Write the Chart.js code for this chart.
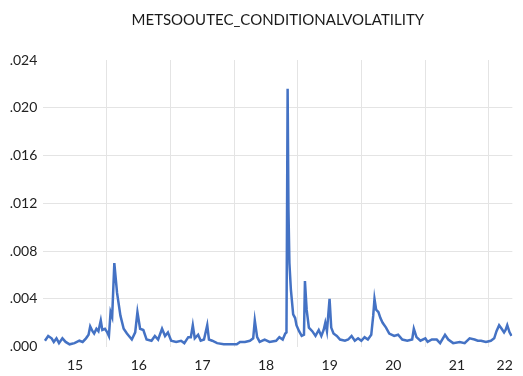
<!DOCTYPE html>
<html lang="en">
<head>
    <meta charset="UTF-8">
    <title>METSOOUTEC_CONDITIONALVOLATILITY</title>
    <script src="https://cdn.jsdelivr.net/npm/chart.js"></script>
    <style>
        body { margin: 0; background: #fff; }
        .container { width: 523px; height: 376px; position: relative; }
    </style>
</head>
<body>
    <div class="container">
        <canvas id="volChart"></canvas>
    </div>

    <script>
        // decimal years
        const dates = [
            2015.026, 2015.077, 2015.130, 2015.165, 2015.207, 2015.247, 2015.300, 2015.351, 2015.413, 2015.490,
            2015.567, 2015.618, 2015.671, 2015.711, 2015.737, 2015.773, 2015.799, 2015.835, 2015.866, 2015.903,
            2015.927, 2015.969, 2016.005, 2016.031, 2016.057, 2016.082, 2016.116, 2016.159, 2016.212, 2016.263,
            2016.314, 2016.391, 2016.444, 2016.479, 2016.521, 2016.572, 2016.623, 2016.700, 2016.753, 2016.804,
            2016.866, 2016.913, 2016.958, 2017.009, 2017.087, 2017.164, 2017.216, 2017.278, 2017.318, 2017.349,
            2017.380, 2017.433, 2017.473, 2017.525, 2017.576, 2017.603, 2017.654, 2017.731, 2017.835, 2017.937,
            2018.040, 2018.091, 2018.168, 2018.246, 2018.298, 2018.323, 2018.360, 2018.400, 2018.478, 2018.555,
            2018.658, 2018.709, 2018.762, 2018.802, 2018.821, 2018.839, 2018.852, 2018.867, 2018.890, 2018.926,
            2018.957, 2018.978, 2019.019, 2019.060, 2019.096, 2019.111, 2019.138, 2019.173, 2019.226, 2019.277,
            2019.328, 2019.369, 2019.405, 2019.431, 2019.457, 2019.498, 2019.524, 2019.560, 2019.612, 2019.663,
            2019.740, 2019.791, 2019.844, 2019.895, 2019.946, 2019.997, 2020.048, 2020.100, 2020.153, 2020.184,
            2020.204, 2020.230, 2020.266, 2020.297, 2020.332, 2020.385, 2020.436, 2020.513, 2020.575, 2020.641,
            2020.719, 2020.796, 2020.822, 2020.864, 2020.926, 2021.003, 2021.039, 2021.105, 2021.182, 2021.235,
            2021.312, 2021.363, 2021.440, 2021.544, 2021.621, 2021.699, 2021.776, 2021.827, 2021.878, 2021.955,
            2022.032, 2022.085, 2022.121, 2022.162, 2022.202, 2022.240, 2022.264, 2022.290, 2022.326, 2022.357
        ];
        const volatility = [
            .0005, .0009, .0007, .0004, .0007, .0003, .0007, .0004, .0002, .0003,
            .0005, .0004, .0007, .0010, .0017, .0013, .0011, .0015, .0013, .0022,
            .0014, .0015, .0012, .0009, .0029, .0025, .0070, .0045, .0026, .0015,
            .0011, .0006, .0012, .0029, .0015, .0014, .0006, .0005, .0009, .0006,
            .0015, .0009, .0012, .0005, .0004, .0005, .0003, .0008, .0008, .0018,
            .0007, .0010, .0005, .0006, .0018, .0006, .0005, .0003, .0002, .0002,
            .0002, .0004, .0004, .0005, .0007, .0022, .0008, .0004, .0006, .0004,
            .0005, .0008, .0006, .0011, .0012, .0216, .0115, .0070, .0048, .0027,
            .0024, .0018, .0013, .0009, .0010, .0055, .0031, .0016, .0013, .0009,
            .0014, .0009, .0014, .0020, .0013, .0040, .0016, .0011, .0009, .0006,
            .0005, .0006, .0009, .0005, .0007, .0005, .0008, .0006, .0010, .0026,
            .0040, .0031, .0029, .0024, .0020, .0016, .0011, .0009, .0010, .0006,
            .0005, .0006, .0015, .0008, .0005, .0007, .0004, .0006, .0006, .0003,
            .0010, .0006, .0003, .0004, .0003, .0007, .0006, .0005, .0005, .0004,
            .0005, .0007, .0013, .0018, .0015, .0012, .0014, .0018, .0012, .0009
        ];
        // x ticks: year boundaries get a grid line, mid points carry the label
        const xTicks = [2015, 2015.5, 2016, 2016.5, 2017, 2017.5, 2018, 2018.5, 2019, 2019.5,
                        2020, 2020.5, 2021, 2021.5, 2022, 2022.25];
        const xTickLabels = ['', '15', '', '16', '', '17', '', '18', '', '19', '', '20', '', '21', '', '22'];
        const yTicks = [0, .004, .008, .012, .016, .020, .024];

        const points = dates.map((d, i) => ({ x: d, y: volatility[i] }));
        const gridColor = '#e4e4e4';

        let ctx = document.getElementById('volChart').getContext('2d');
        new Chart(ctx, {
            type: 'line',
            data: {
                datasets: [{
                    label: 'METSOOUTEC_CONDITIONALVOLATILITY',
                    data: points,
                    borderColor: '#4472c4',
                    borderWidth: 2.5,
                    pointRadius: 0,
                    tension: 0,
                    fill: false
                }]
            },
            options: {
                responsive: true,
                maintainAspectRatio: false,
                animation: false,
                layout: { padding: { left: 0, right: 3, top: 0, bottom: 0 } },
                plugins: {
                    legend: { display: false },
                    tooltip: { enabled: false },
                    title: {
                        display: true,
                        fullSize: false,
                        text: 'METSOOUTEC_CONDITIONALVOLATILITY',
                        color: '#1a1a1a',
                        font: { family: 'Lato', size: 15, weight: 'normal' },
                        padding: { top: 11, bottom: 31 }
                    }
                },
                scales: {
                    x: {
                        type: 'linear',
                        min: 2015,
                        max: 2022.37,
                        afterBuildTicks: axis => { axis.ticks = xTicks.map(v => ({ value: v })); },
                        afterFit: axis => { axis.height = 29.3; },
                        border: { display: false },
                        grid: {
                            drawTicks: false,
                            color: c => (c.tick && Number.isInteger(c.tick.value) && c.tick.value > 2015) ? gridColor : 'rgba(0,0,0,0)'
                        },
                        ticks: {
                            autoSkip: false,
                            maxRotation: 0,
                            padding: 10,
                            color: '#222',
                            font: { family: 'Lato', size: 14 },
                            callback: (v, i) => xTickLabels[i]
                        }
                    },
                    y: {
                        min: 0,
                        max: 0.024,
                        afterBuildTicks: axis => { axis.ticks = yTicks.map(v => ({ value: v })); },
                        afterFit: axis => { axis.width = 43.3; },
                        border: { display: false },
                        grid: {
                            drawTicks: false,
                            color: c => (c.tick && c.tick.value > 0 && c.tick.value < 0.0235) ? gridColor : 'rgba(0,0,0,0)'
                        },
                        ticks: {
                            padding: 6,
                            color: '#222',
                            font: { family: 'Lato', size: 14 },
                            callback: v => v.toFixed(3).replace(/^0/, '')
                        }
                    }
                }
            }
        });
    </script>
</body>
</html>
